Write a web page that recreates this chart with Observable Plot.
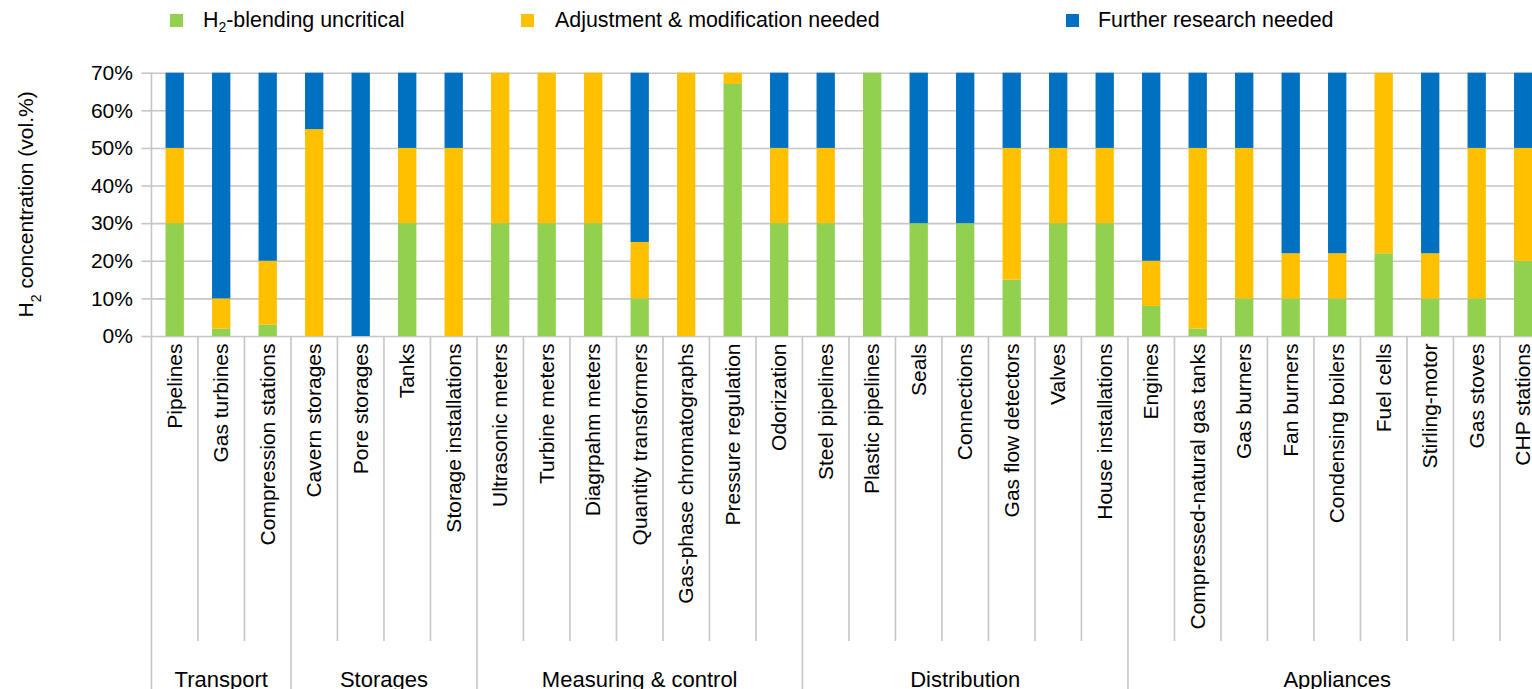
<!DOCTYPE html>
<html>
<head>
<meta charset="utf-8">
<script src="https://cdn.jsdelivr.net/npm/d3@7"></script>
<script src="https://cdn.jsdelivr.net/npm/@observablehq/plot@0.6"></script>
<style>
  html, body { margin: 0; padding: 0; background: #fff; overflow: hidden; }
  body { font-family: "Liberation Sans", Arial, sans-serif; color: #000; width: 1532px; height: 689px; }
  #legend { position: relative; height: 60px; font-size: 21.4px; }
  .item { position: absolute; top: 8px; height: 24px; line-height: 24px; white-space: nowrap; }
  .sw { position: absolute; width: 13px; height: 13px; }
  #chart svg { display: block; }
</style>
</head>
<body>
<div id="legend"></div>
<div id="chart"></div>
<script>
// ---------- data ----------
const categories = [
  "Pipelines", "Gas turbines", "Compression stations",
  "Cavern storages", "Pore storages", "Tanks", "Storage installations",
  "Ultrasonic meters", "Turbine meters", "Diagrpahm meters", "Quantity transformers",
  "Gas-phase chromatographs", "Pressure regulation", "Odorization",
  "Steel pipelines", "Plastic pipelines", "Seals", "Connections",
  "Gas flow detectors", "Valves", "House installations",
  "Engines", "Compressed-natural gas tanks", "Gas burners", "Fan burners",
  "Condensing boilers", "Fuel cells", "Stirling-motor", "Gas stoves", "CHP stations"
];
const groupNames = ["Transport", "Storages", "Measuring & control", "Distribution", "Appliances"];
const groupSizes = [3, 4, 7, 7, 9];

const seriesNames = ["H2-blending uncritical", "Adjustment & modification needed", "Further research needed"];
const seriesColors = ["#92D050", "#FFC000", "#0070C0"];

// segment heights (vol.% H2)
const uncritical = [30, 2, 3, 0, 0, 30, 0, 30, 30, 30, 10, 0, 67, 30, 30, 70, 30, 30, 15, 30, 30, 8, 2, 10, 10, 10, 22, 10, 10, 20];
const adjustment = [20, 8, 17, 55, 0, 20, 50, 40, 40, 40, 15, 70, 3, 20, 20, 0, 0, 0, 35, 20, 20, 12, 48, 40, 12, 12, 48, 12, 40, 30];
const research   = [20, 60, 50, 15, 70, 20, 20, 0, 0, 0, 45, 0, 0, 20, 20, 0, 40, 40, 20, 20, 20, 50, 20, 20, 48, 48, 0, 48, 20, 20];

const yTicks = [0, 10, 20, 30, 40, 50, 60, 70];

// ---------- legend ----------
const legendLayout = [
  {sw: 170, text: 203},
  {sw: 521, text: 555},
  {sw: 1066, text: 1098}
];
const legendLabels = ["H<sub style='font-size:14px'>2</sub>-blending uncritical", "Adjustment &amp; modification needed", "Further research needed"];
const legend = document.getElementById("legend");
seriesNames.forEach((s, i) => {
  const sw = document.createElement("div");
  sw.className = "sw";
  sw.style.left = legendLayout[i].sw + "px";
  sw.style.top = "14px";
  sw.style.background = seriesColors[i];
  legend.appendChild(sw);
  const t = document.createElement("div");
  t.className = "item";
  t.style.left = legendLayout[i].text + "px";
  t.innerHTML = legendLabels[i];
  legend.appendChild(t);
});

// ---------- table ----------
const rows = [];
const seriesValues = [uncritical, adjustment, research];
seriesNames.forEach((s, k) => {
  categories.forEach((c, i) => rows.push({category: c, series: s, value: seriesValues[k][i]}));
});

const gridColor = "#c6c6c6";

function decorations(index, scales, values, dims) {
  const x = scales.x, y = scales.y;
  const bw = x.bandwidth();
  const step = x(categories[1]) - x(categories[0]);
  const boundary = i => (i < categories.length ? x(categories[i]) + bw / 2 - step / 2 : x(categories[categories.length - 1]) + bw / 2 + step / 2);
  const y0 = y(0), yTop = y(70);
  const g = d3.create("svg:g");
  const groupStarts = [];
  let acc = 0;
  groupSizes.forEach(n => { groupStarts.push(acc); acc += n; });
  groupStarts.push(acc);
  for (let i = 0; i <= categories.length; i++) {
    const isGroup = groupStarts.includes(i);
    g.append("line")
      .attr("x1", boundary(i)).attr("x2", boundary(i))
      .attr("y1", i === 0 ? yTop : y0)
      .attr("y2", isGroup ? dims.height : y0 + 305)
      .attr("stroke", gridColor).attr("stroke-width", 1.6);
  }
  groupNames.forEach((name, k) => {
    const a = boundary(groupStarts[k]), b = boundary(groupStarts[k + 1]);
    g.append("text")
      .attr("x", (a + b) / 2).attr("y", dims.height - 2)
      .attr("text-anchor", "middle")
      .attr("font-size", 22).attr("fill", "#000")
      .text(name);
  });
  const t = g.append("text")
    .attr("transform", `translate(33,${(y0 + yTop) / 2}) rotate(-90)`)
    .attr("text-anchor", "middle")
    .attr("font-size", 21).attr("fill", "#000");
  t.append("tspan").text("H");
  t.append("tspan").attr("font-size", 14).attr("baseline-shift", "sub").text("2");
  t.append("tspan").text(" concentration (vol.%)");
  return g.node();
}

const chart = Plot.plot({
  width: 1532,
  height: 629,
  marginTop: 12.7,
  marginBottom: 353,
  marginLeft: 151.45,
  marginRight: -14.45,
  style: {fontFamily: "'Liberation Sans', Arial, sans-serif", fontSize: "21px", color: "#000", background: "#fff", overflow: "visible"},
  x: {domain: categories, paddingInner: 0.606, paddingOuter: 0.303, round: false, label: null},
  y: {domain: [0, 70], label: null},
  color: {domain: seriesNames, range: seriesColors},
  marks: [
    Plot.gridY(yTicks, {stroke: gridColor, strokeOpacity: 1, strokeWidth: 1.6}),
    Plot.barY(rows, {x: "category", y: "value", fill: "series", order: seriesNames}),
    Plot.axisY(yTicks, {tickSize: 10, tickPadding: 9, stroke: gridColor, strokeWidth: 1.6, fill: "#000", fontSize: 21, tickFormat: d => d + "%", label: null}),
    Plot.axisX({tickRotate: -90, tickSize: 0, tickPadding: 7, fill: "#000", fontSize: 21, label: null}),
    decorations
  ]
});
document.getElementById("chart").appendChild(chart);
</script>
</body>
</html>
